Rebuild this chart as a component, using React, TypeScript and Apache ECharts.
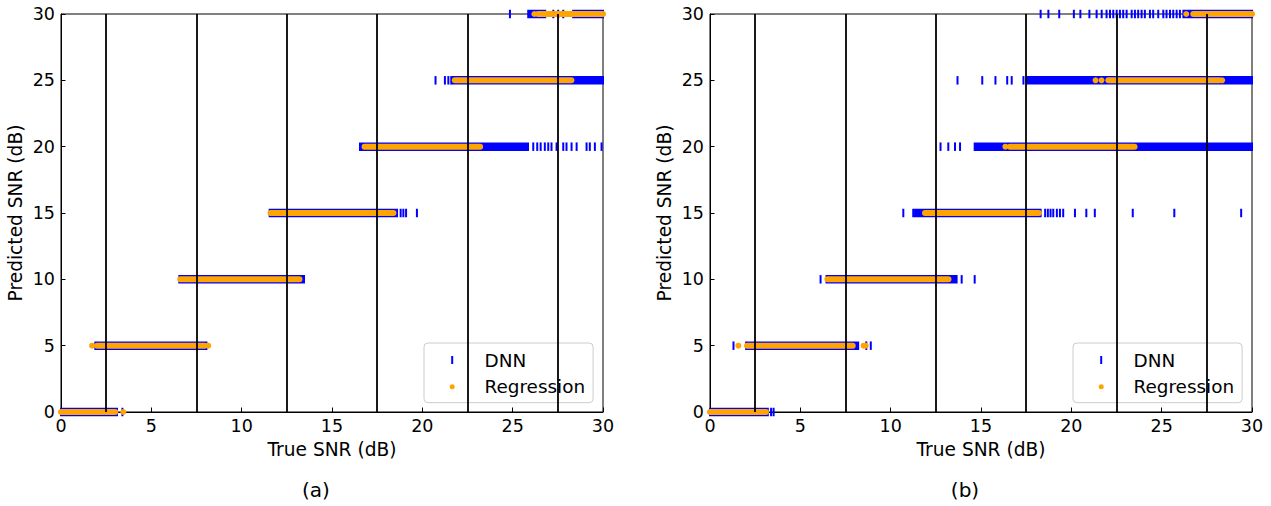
import React, { useEffect, useRef } from 'react';
import * as echarts from 'echarts';

// ---------------- data ----------------
const FONT = 'DejaVu Sans';
const DNN_COLOR = '#0000ff';
const REG_COLOR = '#ffa500';

const axisMin = 0;
const axisMax = 30;
const tickStep = 5;
const boundaries = [2.5, 7.5, 12.5, 17.5, 22.5, 27.5];
const captions = ['(a)', '(b)'];

// dense DNN bands: [predicted level, true SNR start, true SNR end]
const dnnBandsA = [
  [0, 0, 3.1],
  [5, 1.9, 8.05],
  [10, 6.55, 13.45],
  [15, 11.55, 18.6],
  [20, 16.55, 25.85],
  [25, 21.7, 30],
  [30, 25.86, 26.8],
  [30, 28.35, 30],
];
// isolated DNN predictions: [true SNR, predicted]
const dnnTicksA = [
  [3.4, 0],
  [18.8, 15], [18.95, 15], [19.1, 15], [19.7, 15],
  [26.14, 20], [26.36, 20], [26.55, 20], [26.78, 20], [26.97, 20], [27.15, 20],
  [27.43, 20], [27.8, 20], [27.98, 20], [28.26, 20], [28.54, 20], [29.09, 20],
  [29.27, 20], [29.55, 20], [29.92, 20],
  [20.73, 25], [21.25, 25], [21.44, 25], [21.6, 25],
  [24.85, 30], [27.25, 30], [27.52, 30], [27.8, 30],
];
// dense regression bands: [level, start, end]
const regBandsA = [
  [0, 0, 3.0],
  [5, 2.0, 7.95],
  [10, 6.6, 13.2],
  [15, 11.6, 18.4],
  [20, 16.8, 23.2],
  [25, 21.8, 28.25],
  [30, 26.4, 30],
];
const regDotsA = [
  [3.45, 0], [1.72, 5], [8.15, 5], [26.2, 30],
];

const dnnBandsB = [
  [0, 0, 3.2],
  [5, 2.0, 8.2],
  [10, 6.45, 13.65],
  [15, 11.35, 18.3],
  [20, 14.65, 30],
  [25, 17.55, 30],
  [30, 26.2, 30],
];
const dnnTicksB = [
  [3.38, 0], [3.52, 0],
  [1.3, 5], [8.65, 5], [8.9, 5],
  [6.12, 10], [13.93, 10], [14.65, 10],
  [10.7, 15], [11.25, 15], [18.55, 15], [18.7, 15], [18.85, 15], [19.0, 15],
  [19.2, 15], [19.37, 15], [19.55, 15], [20.2, 15], [20.83, 15], [21.3, 15],
  [23.4, 15], [25.7, 15], [29.4, 15],
  [12.76, 20], [13.19, 20], [13.56, 20], [13.84, 20],
  [13.7, 25], [15.07, 25], [15.8, 25], [16.45, 25], [16.7, 25], [17.35, 25],
  [18.3, 30], [18.73, 30], [19.33, 30], [20.14, 30], [20.5, 30], [21.0, 30],
  [21.4, 30], [21.68, 30], [21.95, 30], [22.14, 30], [22.32, 30], [22.51, 30],
  [22.69, 30], [22.87, 30], [23.06, 30], [23.34, 30], [23.52, 30], [23.7, 30],
  [23.89, 30], [24.07, 30], [24.35, 30], [24.53, 30], [24.81, 30], [25.09, 30],
  [25.27, 30], [25.46, 30], [25.64, 30], [25.83, 30], [26.01, 30],
];
const regBandsB = [
  [0, 0, 3.1],
  [5, 2.05, 7.9],
  [10, 6.5, 13.2],
  [15, 11.9, 18.2],
  [20, 16.6, 23.5],
  [25, 22.05, 28.2],
  [30, 26.75, 30],
];
const regDotsB = [
  [1.57, 5], [8.5, 5], [8.62, 5],
  [16.35, 20],
  [21.34, 25], [21.67, 25], [28.35, 25],
  [26.36, 30],
];

const panels = [
  { dnnBands: dnnBandsA, dnnTicks: dnnTicksA, regBands: regBandsA, regDots: regDotsA },
  { dnnBands: dnnBandsB, dnnTicks: dnnTicksB, regBands: regBandsB, regDots: regDotsB },
];

// ---------------- layout ----------------
const gridLefts = [61, 710];
const gridTop = 14;
const gridW = 542;
const gridH = 398;
const legendLefts = [424, 1073];
const captionX = [316, 965];

const dnnBandRender = (_p: any, api: any) => {
  const y = api.value(0);
  const a = api.coord([api.value(1), y]);
  const b = api.coord([api.value(2), y]);
  return {
    type: 'rect',
    shape: { x: a[0] - 1, y: a[1] - 4.25, width: b[0] - a[0] + 2, height: 8.5 },
    style: { fill: DNN_COLOR },
  };
};
const regBandRender = (_p: any, api: any) => {
  const y = api.value(0);
  const a = api.coord([api.value(1), y]);
  const b = api.coord([api.value(2), y]);
  return {
    type: 'rect',
    shape: { x: a[0] - 3, y: a[1] - 3, width: b[0] - a[0] + 6, height: 6, r: 3 },
    style: { fill: REG_COLOR },
  };
};

export default function App() {
  const ref = useRef<HTMLDivElement>(null);
  useEffect(() => {
    if (!ref.current) return;
    const chart = echarts.init(ref.current, undefined, { renderer: 'svg' });
    const tickStyle = { fontFamily: FONT, fontSize: 17.5, color: '#000' };
    const nameStyle = { fontFamily: FONT, fontSize: 18.6, color: '#000' };

    const grid = gridLefts.map((l) => ({
      left: l, top: gridTop, width: gridW, height: gridH,
      show: true, borderColor: '#000', borderWidth: 1, backgroundColor: 'transparent',
    }));
    const axisCommon = {
      type: 'value', min: axisMin, max: axisMax, interval: tickStep,
      axisLine: { show: true, lineStyle: { color: '#000', width: 1 } },
      axisTick: { show: true, inside: true, length: 4.5, lineStyle: { color: '#000', width: 1 } },
      splitLine: { show: false },
      nameTextStyle: nameStyle,
    };
    const xAxis = gridLefts.map((_, i) => ({
      ...axisCommon, gridIndex: i,
      name: 'True SNR (dB)', nameLocation: 'middle', nameGap: 28,
      axisLabel: { ...tickStyle, margin: 5 },
    }));
    const yAxis = gridLefts.map((_, i) => ({
      ...axisCommon, gridIndex: i,
      name: 'Predicted SNR (dB)', nameLocation: 'middle', nameGap: 36,
      axisLabel: { ...tickStyle, margin: 6 },
    }));

    const series: any[] = [];
    panels.forEach((p, i) => {
      series.push({
        type: 'custom', name: 'DNN', xAxisIndex: i, yAxisIndex: i, z: 2,
        renderItem: dnnBandRender, data: p.dnnBands, encode: { x: [1, 2], y: 0 },
        itemStyle: { color: DNN_COLOR }, clip: false, silent: true,
      });
      series.push({
        type: 'scatter', name: 'DNN', xAxisIndex: i, yAxisIndex: i, z: 2,
        symbol: 'rect', symbolSize: [2, 8.5], data: p.dnnTicks,
        itemStyle: { color: DNN_COLOR, opacity: 1 }, clip: false, silent: true,
      });
      series.push({
        type: 'custom', name: 'Regression', xAxisIndex: i, yAxisIndex: i, z: 3,
        renderItem: regBandRender, data: p.regBands, encode: { x: [1, 2], y: 0 },
        itemStyle: { color: REG_COLOR }, clip: false, silent: true,
      });
      series.push({
        type: 'scatter', name: 'Regression', xAxisIndex: i, yAxisIndex: i, z: 3,
        symbol: 'circle', symbolSize: 6, data: p.regDots,
        itemStyle: { color: REG_COLOR, opacity: 1 }, clip: false, silent: true,
      });
      series.push({
        type: 'line', name: 'boundaries', xAxisIndex: i, yAxisIndex: i, z: 10,
        data: [], silent: true,
        markLine: {
          silent: true, symbol: ['none', 'none'], animation: false,
          label: { show: false },
          lineStyle: { color: '#000', width: 1.8, type: 'solid' },
          emphasis: { disabled: true },
          data: boundaries.map((b) => ({ xAxis: b })),
        },
      });
    });

    const legend = legendLefts.map((l) => ({
      left: l, top: 343, orient: 'vertical', align: 'left',
      itemWidth: 20, itemHeight: 8, itemGap: 8.7,
      padding: [8, 8, 7, 25.7],
      backgroundColor: 'rgba(255,255,255,0.8)',
      borderColor: '#cccccc', borderWidth: 1, borderRadius: 4,
      selectedMode: false,
      textStyle: { fontFamily: FONT, fontSize: 18.4, color: '#000', lineHeight: 18, padding: [0, 0, 0, 17.3] },
      data: [
        { name: 'DNN', icon: 'path://M0,0h1v4h-1z', itemStyle: { color: DNN_COLOR, borderWidth: 0 } },
        { name: 'Regression', icon: 'path://M0,-4M0,4M-2.5,0a2.5,2.5 0 1,0 5,0a2.5,2.5 0 1,0 -5,0z', itemStyle: { color: REG_COLOR, borderWidth: 0 } },
      ],
    }));

    chart.setOption({
      animation: false,
      backgroundColor: '#ffffff',
      grid, xAxis, yAxis, series, legend,
      graphic: captions.map((c, i) => ({
        type: 'text', x: captionX[i], y: 490,
        style: { text: c, fontFamily: FONT, fontSize: 20, fill: '#000', align: 'center', verticalAlign: 'middle' },
      })),
    });
    return () => chart.dispose();
  }, []);
  return <div ref={ref} style={{ position: 'absolute', left: 0, top: 0, width: 1271, height: 506 }} />;
}
